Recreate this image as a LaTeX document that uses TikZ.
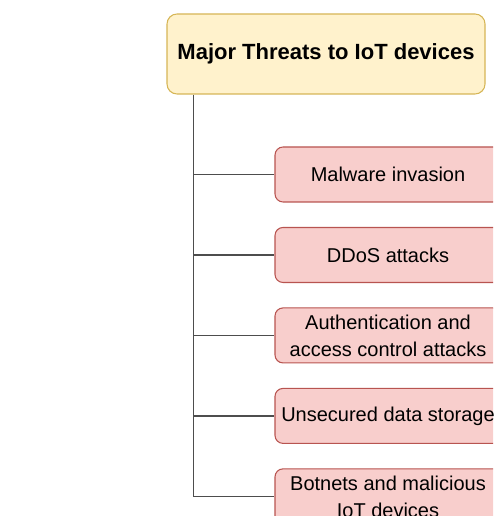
\documentclass[tikz,border=0pt]{standalone}
\usepackage{fontspec}
\setmainfont{Liberation Sans}
\usepackage{tikz}
\usetikzlibrary{positioning}

\definecolor{rootfill}{HTML}{FFF2CC}
\definecolor{rootdraw}{HTML}{D6B656}
\definecolor{threatfill}{HTML}{F8CECC}
\definecolor{threatdraw}{HTML}{B85450}
\definecolor{linkgray}{HTML}{4D4D4D}

\begin{document}
\begin{tikzpicture}[
    x=0.75pt, y=-0.75pt,
    node distance=18.3pt,
    rootbox/.style={rectangle, rounded corners=7.5pt, minimum width=238.5pt, minimum height=60pt, text centered, draw=rootdraw, fill=rootfill, line width=0.8pt, font=\fontsize{16.5}{20}\selectfont\bfseries},
    threat/.style={rectangle, rounded corners=6pt, minimum width=169.5pt, minimum height=41.25pt, inner sep=2pt, align=center, draw=threatdraw, fill=threatfill, line width=0.8pt, font=\fontsize{15}{20.25}\selectfont},
    link/.style={draw=linkgray, line width=1pt}
]
\clip (0,0) rectangle (493,516);
\node (root) [rootbox] at (326,54) {Major Threats to IoT devices};
\node (malware) [threat] at (388,174.5) {Malware invasion};
\node (ddos) [threat, below=of malware] {DDoS attacks};
\node (auth) [threat, below=of ddos] {Authentication and\\access control attacks};
\node (storage) [threat, below=of auth] {Unsecured data storage};
\node (botnet) [threat, below=of storage] {Botnets and malicious\\IoT devices};
\coordinate (trunk) at ([xshift=20.25pt]root.south west);
\draw [link] (trunk) |- (botnet.west);
\draw [link] (trunk |- malware.west) -- (malware.west);
\draw [link] (trunk |- ddos.west) -- (ddos.west);
\draw [link] (trunk |- auth.west) -- (auth.west);
\draw [link] (trunk |- storage.west) -- (storage.west);
\end{tikzpicture}
\end{document}
